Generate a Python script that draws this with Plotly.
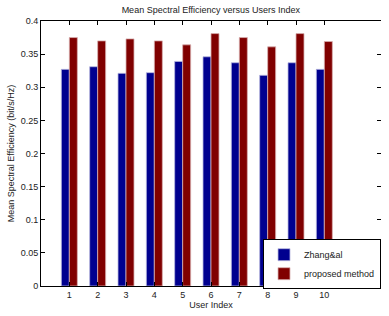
import plotly.graph_objects as go

users = [1, 2, 3, 4, 5, 6, 7, 8, 9, 10]
zhang = [0.327, 0.331, 0.321, 0.322, 0.339, 0.346, 0.337, 0.318, 0.337, 0.327]
proposed = [0.375, 0.370, 0.373, 0.370, 0.364, 0.381, 0.375, 0.361, 0.381, 0.369]
yticks = [0, 0.05, 0.1, 0.15, 0.2, 0.25, 0.3, 0.35, 0.4]

font = dict(family="Liberation Sans, Arial, sans-serif", size=9, color="#222")

fig = go.Figure()
fig.add_trace(go.Bar(x=users, y=zhang, name="Zhang&al",
                     marker=dict(color="#00008F", line=dict(color="#b8b8e0", width=0.8))))
fig.add_trace(go.Bar(x=users, y=proposed, name="proposed method",
                     marker=dict(color="#800000", line=dict(color="#d8b0b0", width=0.8))))
# invisible helper for right-side ticks
fig.add_trace(go.Scatter(x=[None], y=[None], yaxis="y2", showlegend=False, hoverinfo="skip"))

fig.update_layout(
    width=389, height=316,
    margin=dict(l=41, r=8, t=21, b=27),
    paper_bgcolor="white", plot_bgcolor="white",
    font=font,
    barmode="group", bargap=0.435, bargroupgap=0,
    title=dict(text="Mean Spectral Efficiency versus Users Index", x=0.542, xanchor="center",
               y=0.978, yanchor="top", font=dict(size=9, color="#222")),
    xaxis=dict(range=[0, 12], tickvals=users, ticktext=[str(u) for u in users],
               showline=True, linecolor="black", linewidth=1, mirror="ticks",
               ticks="inside", ticklen=4, tickcolor="black", showgrid=False, zeroline=False,
               title=dict(text="User Index", standoff=2, font=dict(size=9))),
    yaxis=dict(range=[0, 0.4], tickvals=yticks, ticktext=["0", "0.05", "0.1", "0.15", "0.2", "0.25", "0.3", "0.35", "0.4"],
               showline=True, linecolor="black", linewidth=1,
               ticks="inside", ticklen=4, tickcolor="black", showgrid=False, zeroline=False,
               title=dict(text="Mean Spectral Efficiency (bit/s/Hz)", standoff=4, font=dict(size=9))),
    yaxis2=dict(range=[0, 0.4], overlaying="y", side="right", tickvals=yticks, showticklabels=False,
                ticks="inside", ticklen=4, tickcolor="black", showline=False, showgrid=False, zeroline=False),
    legend=dict(x=1, y=-0.012, xanchor="right", yanchor="bottom", bgcolor="white",
                bordercolor="black", borderwidth=1, font=dict(size=9),
                itemwidth=30, tracegroupgap=0),
    showlegend=True,
)

fig.write_html("out.html")
